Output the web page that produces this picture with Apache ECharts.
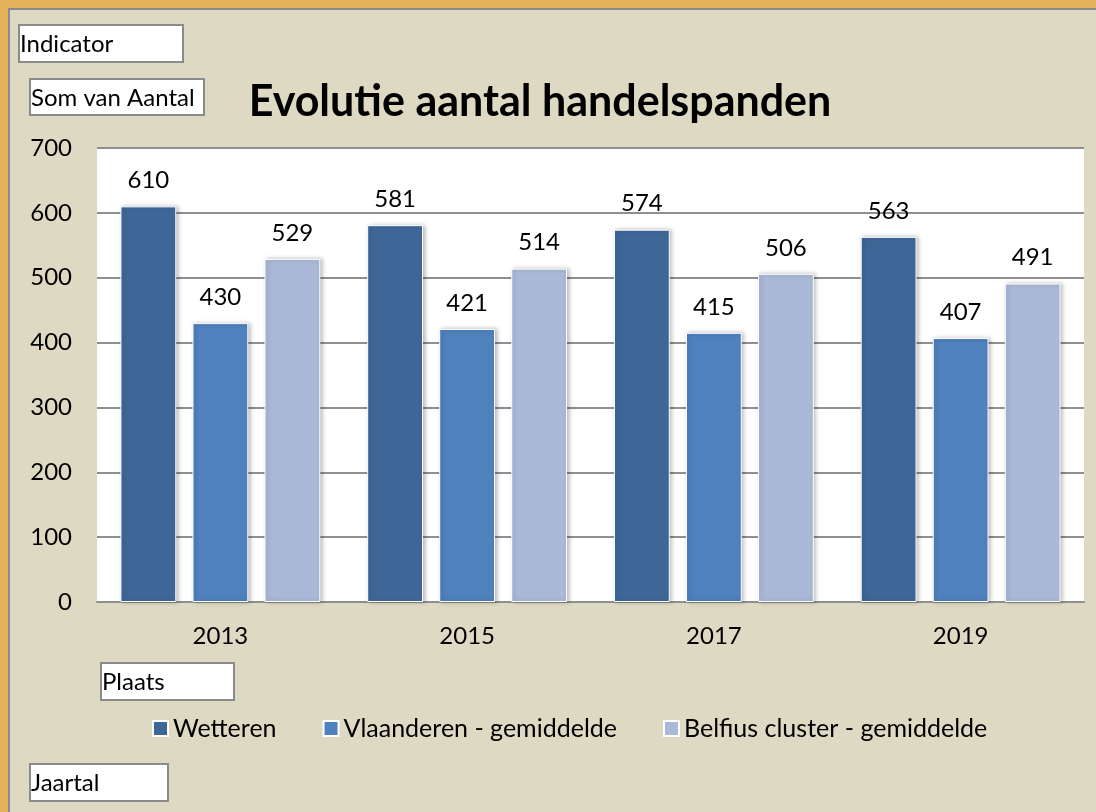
<!DOCTYPE html>
<html>
<head>
    <meta charset="utf-8">
    <title>Evolutie aantal handelspanden</title>
    <script src="https://cdn.jsdelivr.net/npm/echarts@6/dist/echarts.min.js"></script>
    <style>
        html, body { margin: 0; padding: 0; background: #DDD9C3; }
    </style>
</head>
<body>
    <div id="main" style="width: 1096px;height: 812px;"></div>
    <script type="text/javascript">
        // data
        var jaren = ['2013', '2015', '2017', '2019'];
        var wetteren = [610, 581, 574, 563];
        var vlaanderen = [430, 421, 415, 407];
        var belfius = [529, 514, 506, 491];
        var yTicks = [0, 100, 200, 300, 400, 500, 600, 700];

        var font = 'Lato, "Open Sans", sans-serif';
        var myChart = echarts.init(document.getElementById('main'));

        // pivot field knoppen (witte vakjes)
        function veld(x, y, w, h, tekst) {
            return {
                type: 'group',
                children: [
                    { type: 'rect', shape: { x: x, y: y, width: w, height: h },
                      style: { fill: '#fff', stroke: '#8b8b8b', lineWidth: 2 } },
                    { type: 'text', x: x + 1, y: y + h / 2 + 1,
                      style: { text: tekst, font: '24px ' + font, fill: '#000', verticalAlign: 'middle' } }
                ]
            };
        }

        function serie(naam, data, kleur) {
            return {
                name: naam,
                type: 'bar',
                data: data,
                barGap: '29%',
                barCategoryGap: '19%',
                itemStyle: {
                    color: kleur,
                    borderColor: '#fff',
                    borderWidth: 1,
                    shadowColor: 'rgba(0,0,0,0.25)',
                    shadowBlur: 4,
                    shadowOffsetX: 2
                },
                label: {
                    show: true,
                    position: 'top',
                    distance: 14,
                    color: '#000',
                    fontSize: 24,
                    fontFamily: font
                }
            };
        }

        var option = {
            backgroundColor: '#DDD9C3',
            animation: false,
            title: {
                text: 'Evolutie aantal handelspanden',
                left: 535,
                textAlign: 'center',
                top: 76,
                textStyle: { fontSize: 43, fontWeight: 'bold', color: '#000', fontFamily: font }
            },
            legend: {
                left: 147,
                top: 711,
                icon: 'rect',
                itemWidth: 15,
                itemHeight: 15,
                itemGap: 46,
                textStyle: { fontSize: 25, color: '#000', fontFamily: font },
                data: ['Wetteren', 'Vlaanderen - gemiddelde', 'Belfius cluster - gemiddelde']
            },
            grid: {
                left: 97,
                right: 12,
                top: 148,
                bottom: 210,
                show: true,
                backgroundColor: '#fff',
                borderWidth: 0
            },
            xAxis: {
                type: 'category',
                data: jaren,
                axisTick: { show: false },
                axisLine: { lineStyle: { color: '#8f8f8f', width: 2 } },
                axisLabel: { margin: 22, fontSize: 24, color: '#000', fontFamily: font }
            },
            yAxis: {
                type: 'value',
                min: yTicks[0],
                max: yTicks[yTicks.length - 1],
                interval: 100,
                axisLine: { show: false },
                axisTick: { show: false },
                splitLine: { lineStyle: { color: '#8f8f8f', width: 2 } },
                axisLabel: { margin: 25, fontSize: 24, color: '#000', fontFamily: font }
            },
            series: [
                serie('Wetteren', wetteren, '#3E6797'),
                serie('Vlaanderen - gemiddelde', vlaanderen, '#4F81BD'),
                serie('Belfius cluster - gemiddelde', belfius, '#AAB9D7')
            ],
            graphic: [
                // oranje kader
                { type: 'rect', shape: { x: 0, y: 0, width: 1096, height: 8 }, style: { fill: '#E2B35B' } },
                { type: 'rect', shape: { x: 0, y: 0, width: 8, height: 812 }, style: { fill: '#E2B35B' } },
                { type: 'line', shape: { x1: 8, y1: 9, x2: 1096, y2: 9 }, style: { stroke: '#8b8b8b', lineWidth: 2 } },
                { type: 'line', shape: { x1: 9, y1: 9, x2: 9, y2: 812 }, style: { stroke: '#8b8b8b', lineWidth: 2 } },
                veld(19, 25, 164, 37, 'Indicator'),
                veld(30, 79, 174, 36, 'Som van Aantal'),
                veld(101, 663, 133, 37, 'Plaats'),
                veld(30, 764, 138, 37, 'Jaartal')
            ]
        };

        myChart.setOption(option);
    </script>
</body>
</html>
